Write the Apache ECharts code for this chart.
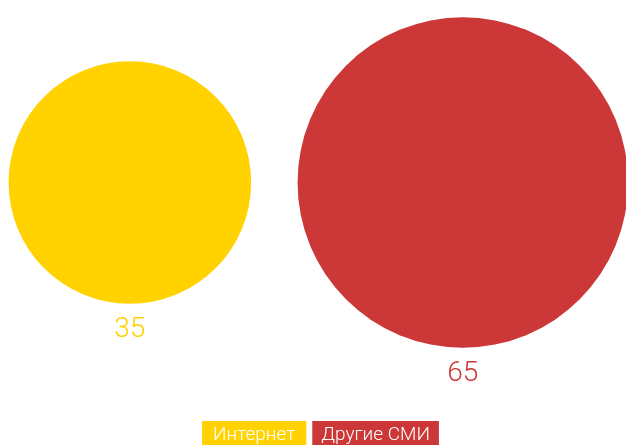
<!DOCTYPE html>
<html><head><meta charset="utf-8">
<script src="https://cdn.jsdelivr.net/npm/echarts@6/dist/echarts.min.js"></script>
<style>html,body{margin:0;padding:0;background:#fff}#c{width:626px;height:445px}</style>
</head><body><div id="c"></div>
<script>
const categories = ['Интернет', 'Другие СМИ'];
const values = [35, 65];
const colors = ['#FFD200', '#CC3737'];
const FONT = "Roboto, 'Liberation Sans', sans-serif";
const legendPad = [[5, 11, 5, 11], [5, 9, 5, 9]];

const chart = echarts.init(document.getElementById('c'));
chart.setOption({
  animation: false,
  grid: { left: 0, right: 0, top: 0, height: 365 },
  xAxis: { type: 'value', min: -0.39, max: 1.49, show: false },
  yAxis: { type: 'value', min: -1, max: 1, show: false },
  legend: {
    bottom: -5, left: 197, icon: 'none', itemWidth: 0, itemHeight: 0, itemGap: 1, padding: 0,
    data: categories.map((c, i) => ({
      name: c,
      textStyle: { backgroundColor: colors[i], color: '#fff', fontFamily: FONT, fontWeight: 300, fontSize: 19, padding: legendPad[i] }
    })),
    selectedMode: false
  },
  series: categories.map((c, i) => ({
    name: c, type: 'scatter',
    data: [[i, 0, values[i]]],
    symbolSize: d => 41 * Math.sqrt(d[2]),
    itemStyle: { color: colors[i], opacity: 1 },
    label: { show: true, position: 'bottom', distance: 12, formatter: p => p.value[2], color: colors[i], fontFamily: FONT, fontWeight: 300, fontSize: 28 },
    emphasis: { disabled: true }
  }))
});
</script></body></html>
